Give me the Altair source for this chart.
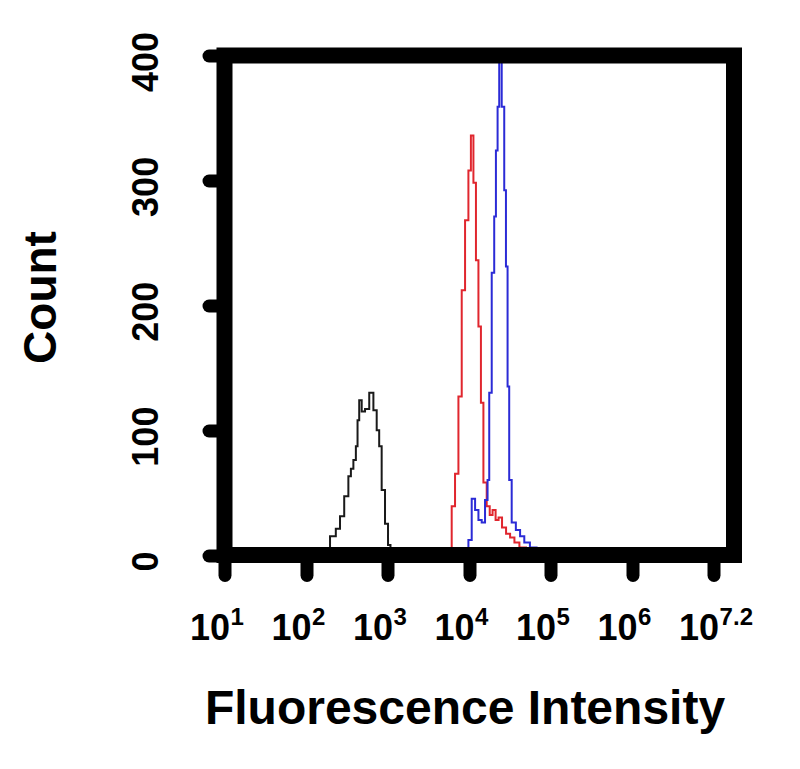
import altair as alt
import pandas as pd

# ---- data (x in log10 units of fluorescence, y = event count) ----
series_names = ["Unstained", "Sample A", "Sample B"]
series_colors = ["#1a1a1a", "#e0262e", "#2b2bd6"]

black_x = [2.22, 2.254, 2.335, 2.396, 2.438, 2.499, 2.540, 2.561, 2.601, 2.622, 2.642,
           2.663, 2.703, 2.745, 2.806, 2.847, 2.887, 2.908, 2.948, 2.990, 3.022, 3.05]
black_y = [0, 5, 15, 21, 31, 47, 63, 69, 76, 87, 108,
           124, 115, 117, 130, 116, 100, 87, 52, 25, 8, 0]

red_x = [3.74, 3.767, 3.807, 3.849, 3.890, 3.930, 3.972, 4.012, 4.033, 4.074, 4.095,
         4.135, 4.156, 4.196, 4.237, 4.270, 4.307, 4.344, 4.380, 4.429, 4.479, 4.528,
         4.585, 4.650, 4.748, 4.78]
red_y = [0, 2, 39, 65, 127, 212, 268, 308, 336, 298, 236,
         183, 122, 58, 39, 32, 36, 28, 30, 22, 17, 14,
         10, 6, 3, 0]

blue_x = [3.95, 3.972, 4.012, 4.053, 4.095, 4.135, 4.175, 4.217, 4.237, 4.258, 4.298,
          4.319, 4.340, 4.360, 4.380, 4.421, 4.442, 4.463, 4.482, 4.503, 4.543, 4.605,
          4.647, 4.708, 4.785, 4.871, 4.90]
blue_y = [0, 4, 12, 45, 36, 28, 26, 44, 60, 130, 226,
          271, 324, 359, 400, 359, 292, 231, 135, 60, 26, 20,
          15, 10, 6, 3, 0]

x_ticks = [1, 2, 3, 4, 5, 6, 7]
x_exponents = ["1", "2", "3", "4", "5", "6", "7.2"]
y_ticks = [0, 100, 200, 300, 400]

rows = []
for name, xs, ys in zip(series_names, [black_x, red_x, blue_x], [black_y, red_y, blue_y]):
    for i, (xv, yv) in enumerate(zip(xs, ys)):
        rows.append({"series": name, "logx": xv, "count": yv, "idx": i})
df = pd.DataFrame(rows)
sup_df = pd.DataFrame({"logx": x_ticks, "exp": x_exponents})

W, H = 509.5, 499.5
FONT = "Liberation Sans"

x_scale = alt.Scale(domain=[1, 7.25], nice=False, zero=False)

lines = alt.Chart(df).mark_line(interpolate="step", strokeWidth=2, clip=True).encode(
    x=alt.X("logx:Q", scale=x_scale,
            axis=alt.Axis(values=x_ticks, labelExpr="'10'",
                          title="Fluorescence Intensity",
                          labelFont=FONT, labelFontSize=36, labelFontWeight="bold",
                          labelColor="black", labelBaseline="alphabetic",
                          labelAlign="right", labelOffset=5, labelPadding=64,
                          labelFlush=False, labelOverlap=False,
                          tickSize=20, tickWidth=13, tickCap="round", tickColor="black",
                          domain=False, grid=False,
                          titleFont=FONT, titleFontSize=48, titleFontWeight="bold",
                          titleColor="black", titleX=240, titleY=168,
                          titleAlign="center", titleBaseline="alphabetic")),
    y=alt.Y("count:Q",
            scale=alt.Scale(domain=[0, 400], nice=False),
            axis=alt.Axis(values=y_ticks, title="Count",
                          labelFont=FONT, labelFontSize=36, labelFontWeight="bold",
                          labelColor="black", labelAngle=270, labelAlign="center",
                          labelBaseline="alphabetic", labelPadding=51, labelOffset=6,
                          labelOverlap=False, labelFlush=False,
                          tickSize=16, tickWidth=13, tickCap="round", tickColor="black",
                          domain=False, grid=False,
                          titleFont=FONT, titleFontSize=46, titleFontWeight="bold",
                          titleColor="black", titleAngle=270,
                          titleX=-169.5, titleY=241.5,
                          titleAlign="center", titleBaseline="alphabetic")),
    color=alt.Color("series:N",
                    scale=alt.Scale(domain=series_names, range=series_colors),
                    legend=None),
    order=alt.Order("idx:Q"),
)

sups = alt.Chart(sup_df).mark_text(
    font=FONT, fontSize=24, fontWeight="bold", color="black",
    align="left", baseline="alphabetic", dx=6
).encode(
    x=alt.X("logx:Q", scale=x_scale),
    y=alt.value(H + 70),
    text="exp:N",
)

frame = alt.Chart(pd.DataFrame({"f": [0]})).mark_rect(
    filled=False, stroke="black", strokeWidth=16, strokeJoin="miter"
).encode(
    x=alt.value(0), x2=alt.value(W), y=alt.value(0), y2=alt.value(H)
)

chart = alt.layer(lines, sups, frame).properties(
    width=W, height=H,
    autosize=alt.AutoSizeParams(type="none"),
    padding={"left": 216.5, "top": 47.5, "right": 58, "bottom": 206},
    background="white",
).configure_view(stroke=None)

chart.save("out.html", embed_options={"renderer": "svg", "actions": False})
